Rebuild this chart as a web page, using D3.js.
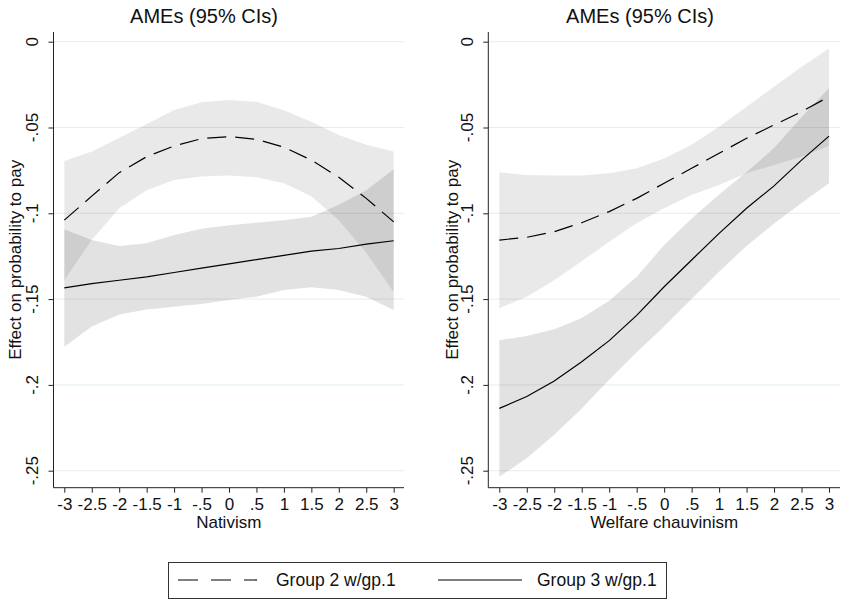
<!DOCTYPE html>
<html>
<head>
<meta charset="utf-8">
<script src="https://cdn.jsdelivr.net/npm/d3@7"></script>
<style>
  body { margin: 0; background: #fff; }
  svg { font-family: "Liberation Sans", Arial, sans-serif; }
</style>
</head>
<body>
<div id="chart"></div>
<script>
// at() values and labels
var xVals = [-3, -2.5, -2, -1.5, -1, -0.5, 0, 0.5, 1, 1.5, 2, 2.5, 3];
var xTickLabels = ['-3', '-2.5', '-2', '-1.5', '-1', '-.5', '0', '.5', '1', '1.5', '2', '2.5', '3'];
var yTicks = [0, -0.05, -0.1, -0.15, -0.2, -0.25];
var yTickLabels = ['0', '-.05', '-.1', '-.15', '-.2', '-.25'];

// Nativism panel
var natG2 = [-0.104, -0.090, -0.0763, -0.067, -0.0608, -0.0565, -0.0553, -0.0569, -0.0615, -0.069, -0.079, -0.0913, -0.105];
var natG2Hi = [-0.0695, -0.064, -0.056, -0.048, -0.0398, -0.0353, -0.034, -0.035, -0.040, -0.0466, -0.0544, -0.060, -0.064];
var natG2Lo = [-0.139, -0.1156, -0.097, -0.0865, -0.0806, -0.0786, -0.078, -0.079, -0.0825, -0.090, -0.104, -0.123, -0.146];
var natG3 = [-0.1435, -0.141, -0.139, -0.137, -0.1345, -0.132, -0.1295, -0.127, -0.1245, -0.122, -0.1205, -0.118, -0.116];
var natG3Hi = [-0.1093, -0.1156, -0.119, -0.1175, -0.1126, -0.109, -0.107, -0.1055, -0.104, -0.102, -0.095, -0.0865, -0.0744];
var natG3Lo = [-0.1777, -0.166, -0.159, -0.156, -0.1544, -0.1528, -0.1505, -0.1486, -0.1447, -0.1431, -0.1447, -0.1486, -0.1563];

// Welfare chauvinism panel
var welG2 = [-0.1156, -0.114, -0.1107, -0.1055, -0.099, -0.0913, -0.0825, -0.0738, -0.065, -0.0563, -0.0485, -0.0408, -0.032];
var welG2Hi = [-0.0761, -0.0777, -0.078, -0.078, -0.0767, -0.0738, -0.068, -0.060, -0.0495, -0.0379, -0.0262, -0.0146, -0.0039];
var welG2Lo = [-0.1554, -0.1486, -0.139, -0.128, -0.1166, -0.1058, -0.0971, -0.0893, -0.0835, -0.0767, -0.0719, -0.067, -0.0608];
var welG3 = [-0.2137, -0.2068, -0.1977, -0.1865, -0.1742, -0.1595, -0.1428, -0.1272, -0.1117, -0.0971, -0.084, -0.069, -0.055];
var welG3Hi = [-0.174, -0.1715, -0.1676, -0.161, -0.151, -0.137, -0.1185, -0.103, -0.089, -0.076, -0.062, -0.044, -0.027];
var welG3Lo = [-0.2535, -0.2428, -0.229, -0.2137, -0.197, -0.181, -0.166, -0.150, -0.134, -0.119, -0.106, -0.094, -0.0825];

var seriesNames = ['Group 2 w/gp.1', 'Group 3 w/gp.1'];
var xTitles = ['Nativism', 'Welfare chauvinism'];

var width = 841, height = 604;
var svg = d3.select('#chart').append('svg')
    .attr('width', width)
    .attr('height', height);

var plotTop = 32, plotBottom = 487.7;
var yScale = d3.scaleLinear().domain([-0.25, 0]).range([470.7, 41.7]);

var panels = [
    { left: 53.5, right: 404, xa: 64.3, xb: 393.7, titleX: 204, labX: 32, ytX: 15,
      g2: natG2, g2Lo: natG2Lo, g2Hi: natG2Hi, g3: natG3, g3Lo: natG3Lo, g3Hi: natG3Hi },
    { left: 488.3, right: 840, xa: 499.3, xb: 829, titleX: 640, labX: 466.7, ytX: 452,
      g2: welG2, g2Lo: welG2Lo, g2Hi: welG2Hi, g3: welG3, g3Lo: welG3Lo, g3Hi: welG3Hi }
];

panels.forEach(function(p, pi) {
    var g = svg.append('g');
    var xScale = d3.scaleLinear().domain([-3, 3]).range([p.xa, p.xb]);

    // grid lines
    g.selectAll('.grid')
        .data(yTicks)
        .enter()
        .append('line')
        .attr('x1', p.left).attr('x2', p.right)
        .attr('y1', function(d) { return yScale(d); })
        .attr('y2', function(d) { return yScale(d); })
        .attr('stroke', '#e4eeee')
        .attr('stroke-width', 1);

    var area = function(lo, hi) {
        return d3.area()
            .x(function(d, i) { return xScale(xVals[i]); })
            .y0(function(d, i) { return yScale(lo[i]); })
            .y1(function(d, i) { return yScale(hi[i]); })(xVals);
    };
    var line = d3.line()
        .x(function(d, i) { return xScale(xVals[i]); })
        .y(function(d) { return yScale(d); });

    // CI bands
    g.append('path').attr('d', area(p.g2Lo, p.g2Hi))
        .attr('fill', '#000').attr('fill-opacity', 0.085);
    g.append('path').attr('d', area(p.g3Lo, p.g3Hi))
        .attr('fill', '#000').attr('fill-opacity', 0.115);

    // estimates
    g.append('path').datum(p.g2).attr('d', line)
        .attr('fill', 'none').attr('stroke', '#000').attr('stroke-width', 1.2)
        .attr('stroke-dasharray', '19,9');
    g.append('path').datum(p.g3).attr('d', line)
        .attr('fill', 'none').attr('stroke', '#000').attr('stroke-width', 1.2);

    // y axis
    var yAxis = d3.axisLeft(yScale).tickValues(yTicks).tickSize(5).tickFormat('');
    var ya = g.append('g').attr('transform', 'translate(' + p.left + ',0)').call(yAxis);
    ya.select('.domain').remove();
    ya.selectAll('line').attr('stroke', '#222');
    g.append('line')
        .attr('x1', p.left).attr('x2', p.left)
        .attr('y1', plotTop).attr('y2', plotBottom)
        .attr('stroke', '#222').attr('stroke-width', 1);

    g.selectAll('.ylab')
        .data(yTicks)
        .enter()
        .append('text')
        .attr('transform', function(d) { return 'translate(' + p.labX + ',' + yScale(d) + ') rotate(-90)'; })
        .attr('dy', '0.35em')
        .attr('text-anchor', 'middle')
        .attr('font-size', 17)
        .attr('fill', '#111')
        .text(function(d, i) { return yTickLabels[i]; });

    g.append('text')
        .attr('transform', 'translate(' + p.ytX + ',' + ((plotTop + plotBottom) / 2) + ') rotate(-90)')
        .attr('dy', '0.35em')
        .attr('text-anchor', 'middle')
        .attr('font-size', 17)
        .attr('fill', '#111')
        .text('Effect on probability to pay');

    // x axis
    var xAxis = d3.axisBottom(xScale).tickValues(xVals).tickSize(5)
        .tickFormat(function(d, i) { return xTickLabels[i]; });
    var xa = g.append('g').attr('transform', 'translate(0,' + plotBottom + ')').call(xAxis);
    xa.select('.domain').remove();
    xa.selectAll('line').attr('stroke', '#222');
    xa.selectAll('text')
        .attr('font-size', 17)
        .attr('font-family', '"Liberation Sans", Arial, sans-serif')
        .attr('fill', '#111')
        .attr('y', 10)
        .attr('dy', '0.71em');
    g.append('line')
        .attr('x1', p.left).attr('x2', p.right)
        .attr('y1', plotBottom).attr('y2', plotBottom)
        .attr('stroke', '#222').attr('stroke-width', 1);

    g.append('text')
        .attr('x', (p.left + p.right) / 2)
        .attr('y', 528)
        .attr('text-anchor', 'middle')
        .attr('font-size', 17)
        .attr('fill', '#111')
        .text(xTitles[pi]);

    g.append('text')
        .attr('x', p.titleX)
        .attr('y', 23)
        .attr('text-anchor', 'middle')
        .attr('font-size', 20)
        .attr('fill', '#111')
        .text('AMEs (95% CIs)');
});

// legend
var leg = svg.append('g');
leg.append('rect')
    .attr('x', 168.5).attr('y', 562.5)
    .attr('width', 498).attr('height', 36)
    .attr('fill', '#fff').attr('stroke', '#333').attr('stroke-width', 1);
leg.append('line')
    .attr('x1', 178).attr('x2', 257).attr('y1', 580).attr('y2', 580)
    .attr('stroke', '#000').attr('stroke-width', 1.2).attr('stroke-dasharray', '20,13');
leg.append('line')
    .attr('x1', 438).attr('x2', 522).attr('y1', 580).attr('y2', 580)
    .attr('stroke', '#000').attr('stroke-width', 1.2);
leg.selectAll('.lt')
    .data(seriesNames)
    .enter()
    .append('text')
    .attr('x', function(d, i) { return i === 0 ? 276 : 537; })
    .attr('y', 580)
    .attr('dy', '0.35em')
    .attr('font-size', 17.5)
    .attr('fill', '#111')
    .text(function(d) { return d; });
</script>
</body>
</html>
